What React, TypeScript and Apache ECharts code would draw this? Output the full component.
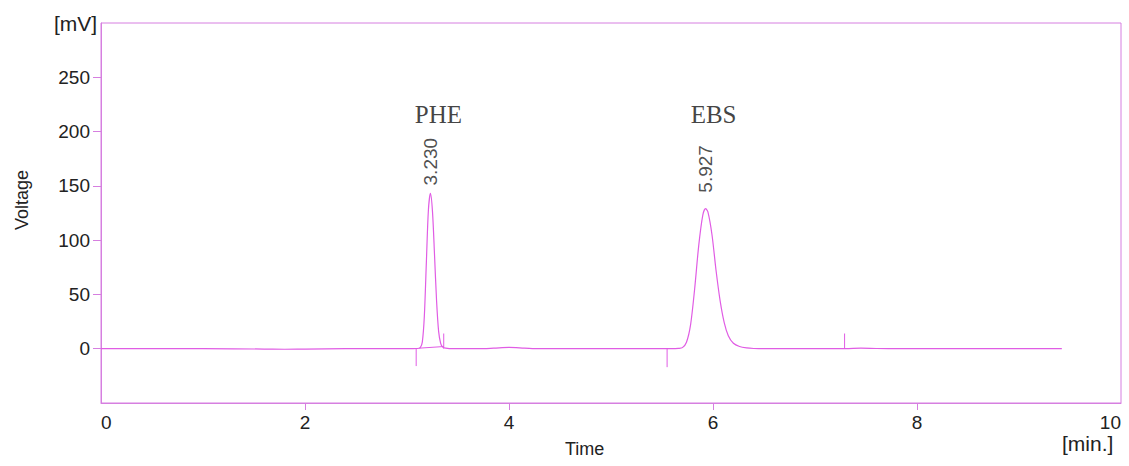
import React, { useEffect, useRef } from "react";
import * as echarts from "echarts";

// Tick values
const xTicks = [0, 2, 4, 6, 8, 10];
const xTickMarks = [2, 4, 6, 8];
const yTicks = [0, 50, 100, 150, 200, 250];

// Chromatogram trace [time (min), voltage (mV)]
const trace: [number, number][] = [
  [0, 0], [1.0, 0], [1.6, -0.3], [1.8, -0.5], [2.0, -0.3], [2.4, 0], [3.0, 0], [3.1, 0.2],
  [3.13, 1], [3.15, 6], [3.17, 30], [3.19, 80], [3.21, 128], [3.23, 143], [3.25, 126],
  [3.27, 86], [3.29, 44], [3.31, 16], [3.33, 5], [3.35, 1.5], [3.38, 0.5], [3.45, 0],
  [3.7, 0], [3.85, 0.5], [4.0, 1.2], [4.15, 0.6], [4.3, 0], [5.0, 0], [5.6, 0],
  [5.66, 0.3], [5.70, 1], [5.74, 6], [5.78, 22], [5.82, 55], [5.86, 95], [5.90, 123],
  [5.927, 129], [5.95, 126], [5.99, 105], [6.03, 72], [6.07, 44], [6.11, 24], [6.15, 12],
  [6.20, 5], [6.26, 2], [6.33, 0.7], [6.40, 0.2], [6.5, 0], [7.3, 0], [7.45, 0.5],
  [7.6, 0.2], [7.8, 0], [9.42, 0],
];

// Integration event marks (vertical ticks on the baseline)
const marks: ([number, number] | null)[] = [
  [3.09, 0], [3.09, -16], null,
  [3.12, 0.5], [3.36, 2], null,
  [3.36, 0], [3.36, 14], null,
  [5.55, 0], [5.55, -17], null,
  [7.29, 0], [7.29, 14],
];

// Peaks
const peakNames = ["PHE", "EBS"];
const peakTimes = [3.23, 5.927];
const peakHeights = [143, 129];

const LINE = "#e05ce4";
const FRAME = "#d67fe0";
const TEXT = "#222";
const NAME_LEVEL = 216;
const LABEL_GAPS = [12, 20];

export default function App() {
  const ref = useRef<HTMLDivElement>(null);
  useEffect(() => {
    if (!ref.current) return;
    const chart = echarts.init(ref.current, null, { renderer: "svg" });
    const font = "Liberation Sans, Arial, sans-serif";
    chart.setOption({
      animation: false,
      backgroundColor: "#fff",
      grid: {
        left: 101, top: 23, right: 8, bottom: 63,
        show: true, borderColor: FRAME, borderWidth: 1, backgroundColor: "transparent",
      },
      xAxis: {
        type: "value", min: 0, max: 10, interval: 2,
        axisLine: { show: true, onZero: false, lineStyle: { color: FRAME, width: 1 } },
        axisTick: { show: true, length: 7, customValues: xTickMarks, lineStyle: { color: FRAME } },
        axisLabel: {
          customValues: xTicks, color: TEXT, fontFamily: font, fontSize: 19, margin: 10,
          alignMinLabel: "left", alignMaxLabel: "right",
        },
        splitLine: { show: false },
      },
      yAxis: {
        type: "value", min: -50, max: 300, interval: 50,
        axisLine: { show: true, onZero: false, lineStyle: { color: FRAME, width: 1 } },
        axisTick: { show: true, length: 8, customValues: yTicks, lineStyle: { color: FRAME } },
        axisLabel: { customValues: yTicks, color: TEXT, fontFamily: font, fontSize: 19, margin: 11 },
        splitLine: { show: false },
      },
      series: [
        {
          type: "line", data: trace, showSymbol: false, smooth: 0.3,
          lineStyle: { color: LINE, width: 1.2 }, silent: true,
        },
        {
          type: "line", data: marks.map((p) => (p ? p : [null, null])), connectNulls: false,
          showSymbol: false, lineStyle: { color: LINE, width: 1 }, silent: true,
        },
        {
          type: "scatter", symbolSize: 0, silent: true,
          data: peakTimes.map((t, i) => ({
            value: [t, peakHeights[i]],
            label: { distance: LABEL_GAPS[i] },
          })),
          label: {
            show: true, position: "top", rotate: 90, align: "left", verticalAlign: "middle",
            offset: [-4, 0], color: TEXT, fontFamily: font, fontSize: 19,
            formatter: (p: any) => p.value[0].toFixed(3),
          },
        },
        {
          type: "scatter", symbolSize: 0, silent: true,
          data: peakTimes.map((t, i) => ({ value: [t, NAME_LEVEL], name: peakNames[i] })),
          label: {
            show: true, position: "inside", offset: [8, 0], color: "#111",
            fontFamily: "Liberation Serif, Times New Roman, serif", fontSize: 25,
            formatter: (p: any) => p.name,
          },
        },
      ],
      graphic: [
        { type: "text", left: 54, top: 13, style: { text: "[mV]", font: `21px ${font}`, fill: TEXT } },
        { type: "text", left: 1062, top: 433, style: { text: "[min.]", font: `21px ${font}`, fill: TEXT } },
        { type: "text", left: 565, top: 440, style: { text: "Time", font: `18px ${font}`, fill: TEXT } },
        {
          type: "text", x: 13, y: 230, rotation: Math.PI / 2,
          style: { text: "Voltage", font: `18px ${font}`, fill: TEXT, textVerticalAlign: "top" },
        },
      ],
    });
    return () => chart.dispose();
  }, []);
  return (
    <div
      ref={ref}
      style={{ position: "absolute", left: 0, top: 0, width: 1129, height: 466 }}
    />
  );
}
